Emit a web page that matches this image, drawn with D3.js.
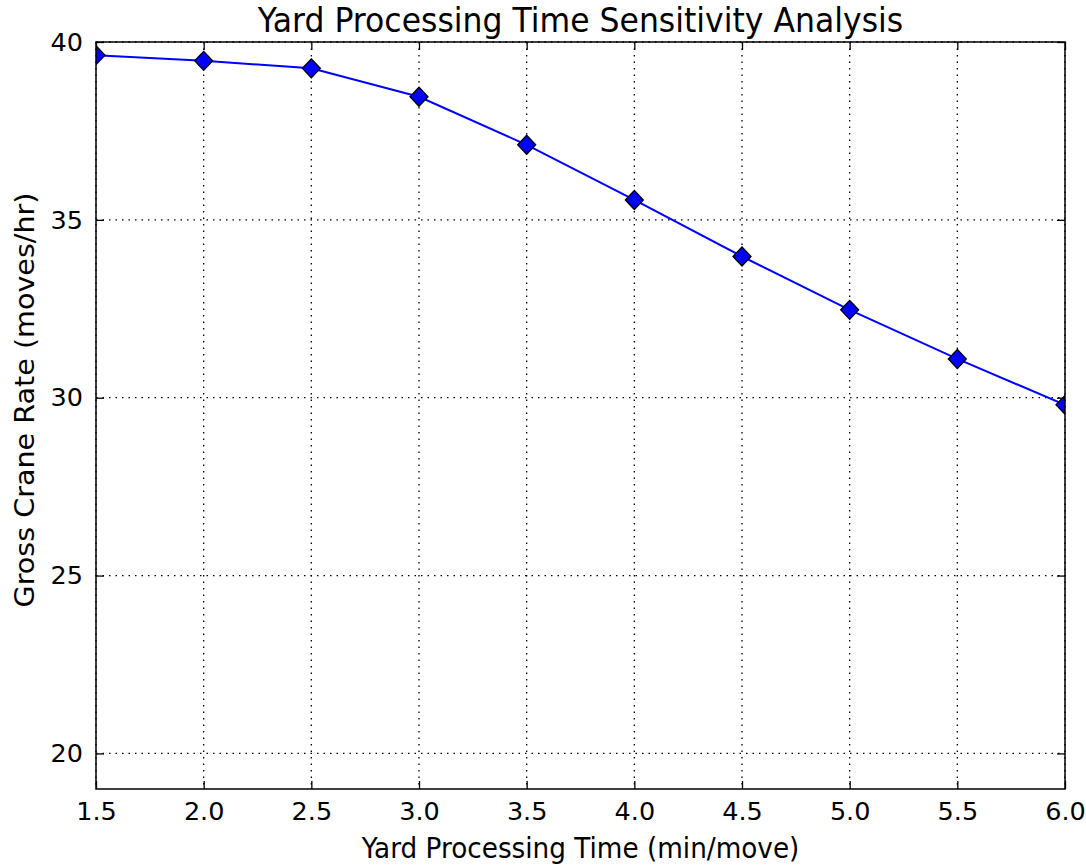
<!DOCTYPE html>
<html>
<head>
<meta charset="utf-8">
<script src="https://cdn.jsdelivr.net/npm/d3@7"></script>
<style>
    body { margin: 0; background: #fff; }
    svg { font-family: "DejaVu Sans", sans-serif; }
    .grid line { stroke: #000; stroke-dasharray: 1.5 5; stroke-width: 1.3; }
</style>
</head>
<body>
<div id="chart"></div>
<script>
// Yard processing time sensitivity data
const processingTimes = [1.5, 2.0, 2.5, 3.0, 3.5, 4.0, 4.5, 5.0, 5.5, 6.0];
const craneRates = [39.63, 39.47, 39.26, 38.46, 37.11, 35.56, 33.97, 32.47, 31.09, 29.80];
const xTicks = [1.5, 2.0, 2.5, 3.0, 3.5, 4.0, 4.5, 5.0, 5.5, 6.0];
const yTicks = [20, 25, 30, 35, 40];

function drawChart() {
    const totalWidth = 1086, totalHeight = 865;
    const margin = { top: 42, right: 21, bottom: 76, left: 96 };
    const width = totalWidth - margin.left - margin.right;
    const height = totalHeight - margin.top - margin.bottom;

    const svg = d3.select("#chart").append("svg")
        .attr("width", totalWidth)
        .attr("height", totalHeight);

    const g = svg.append("g")
        .attr("transform", `translate(${margin.left},${margin.top})`);

    const x = d3.scaleLinear().domain([1.5, 6.0]).range([0, width]);
    const y = d3.scaleLinear().domain([19, 40]).range([height, 0]);

    // dotted grid
    g.append("g").attr("class", "grid")
        .selectAll("line").data(xTicks).enter().append("line")
        .attr("x1", d => x(d)).attr("x2", d => x(d))
        .attr("y1", 0).attr("y2", height);
    g.append("g").attr("class", "grid")
        .selectAll("line").data(yTicks).enter().append("line")
        .attr("x1", 0).attr("x2", width)
        .attr("y1", d => y(d)).attr("y2", d => y(d));

    // clip so the end markers get cut by the frame
    svg.append("clipPath").attr("id", "plot-clip")
        .append("rect").attr("width", width).attr("height", height);

    const data = processingTimes.map((t, i) => ({ t: t, r: craneRates[i] }));
    const plot = g.append("g").attr("clip-path", "url(#plot-clip)");

    plot.append("path")
        .datum(data)
        .attr("fill", "none")
        .attr("stroke", "#0000ff")
        .attr("stroke-width", 2)
        .attr("d", d3.line().x(d => x(d.t)).y(d => y(d.r)));

    plot.selectAll(".marker")
        .data(data)
        .enter().append("path")
        .attr("class", "marker")
        .attr("transform", d => `translate(${x(d.t)},${y(d.r)})`)
        .attr("d", "M0,-9.5L9,0L0,9.5L-9,0Z")
        .attr("fill", "#0000ff")
        .attr("stroke", "#000")
        .attr("stroke-width", 1.3);

    // axes with inward ticks on all four sides
    const tickLen = 8;
    const fmtX = d3.format(".1f");
    g.append("g")
        .attr("transform", `translate(0,${height})`)
        .call(d3.axisBottom(x).tickValues(xTicks).tickFormat(fmtX)
            .tickSizeInner(-tickLen).tickSizeOuter(0).tickPadding(13));
    g.append("g")
        .call(d3.axisTop(x).tickValues(xTicks).tickFormat("")
            .tickSizeInner(-tickLen).tickSizeOuter(0));
    g.append("g")
        .call(d3.axisLeft(y).tickValues(yTicks)
            .tickSizeInner(-tickLen).tickSizeOuter(0).tickPadding(13));
    g.append("g")
        .attr("transform", `translate(${width},0)`)
        .call(d3.axisRight(y).tickValues(yTicks).tickFormat("")
            .tickSizeInner(-tickLen).tickSizeOuter(0));

    g.selectAll(".domain").remove();
    g.selectAll(".tick line").attr("stroke", "#000").attr("stroke-width", 1.3);
    g.selectAll(".tick text")
        .attr("fill", "#000")
        .style("font-family", "DejaVu Sans")
        .style("font-size", "25.5px");

    // frame
    g.append("rect")
        .attr("width", width).attr("height", height)
        .attr("fill", "none").attr("stroke", "#000").attr("stroke-width", 1.5);

    // title and axis labels (slightly stretched vertically like the source image)
    svg.append("text")
        .attr("transform", `translate(${margin.left + width / 2},32) scale(1,1.08)`)
        .attr("text-anchor", "middle")
        .style("font-size", "31.5px")
        .text("Yard Processing Time Sensitivity Analysis");

    svg.append("text")
        .attr("transform", `translate(${margin.left + width / 2},858) scale(1,1.08)`)
        .attr("text-anchor", "middle")
        .style("font-size", "26.3px")
        .text("Yard Processing Time (min/move)");

    svg.append("text")
        .attr("transform", `translate(34,400) rotate(-90) scale(1.1,1)`)
        .attr("text-anchor", "middle")
        .style("font-size", "26px")
        .text("Gross Crane Rate (moves/hr)");
}

drawChart();
</script>
</body>
</html>
